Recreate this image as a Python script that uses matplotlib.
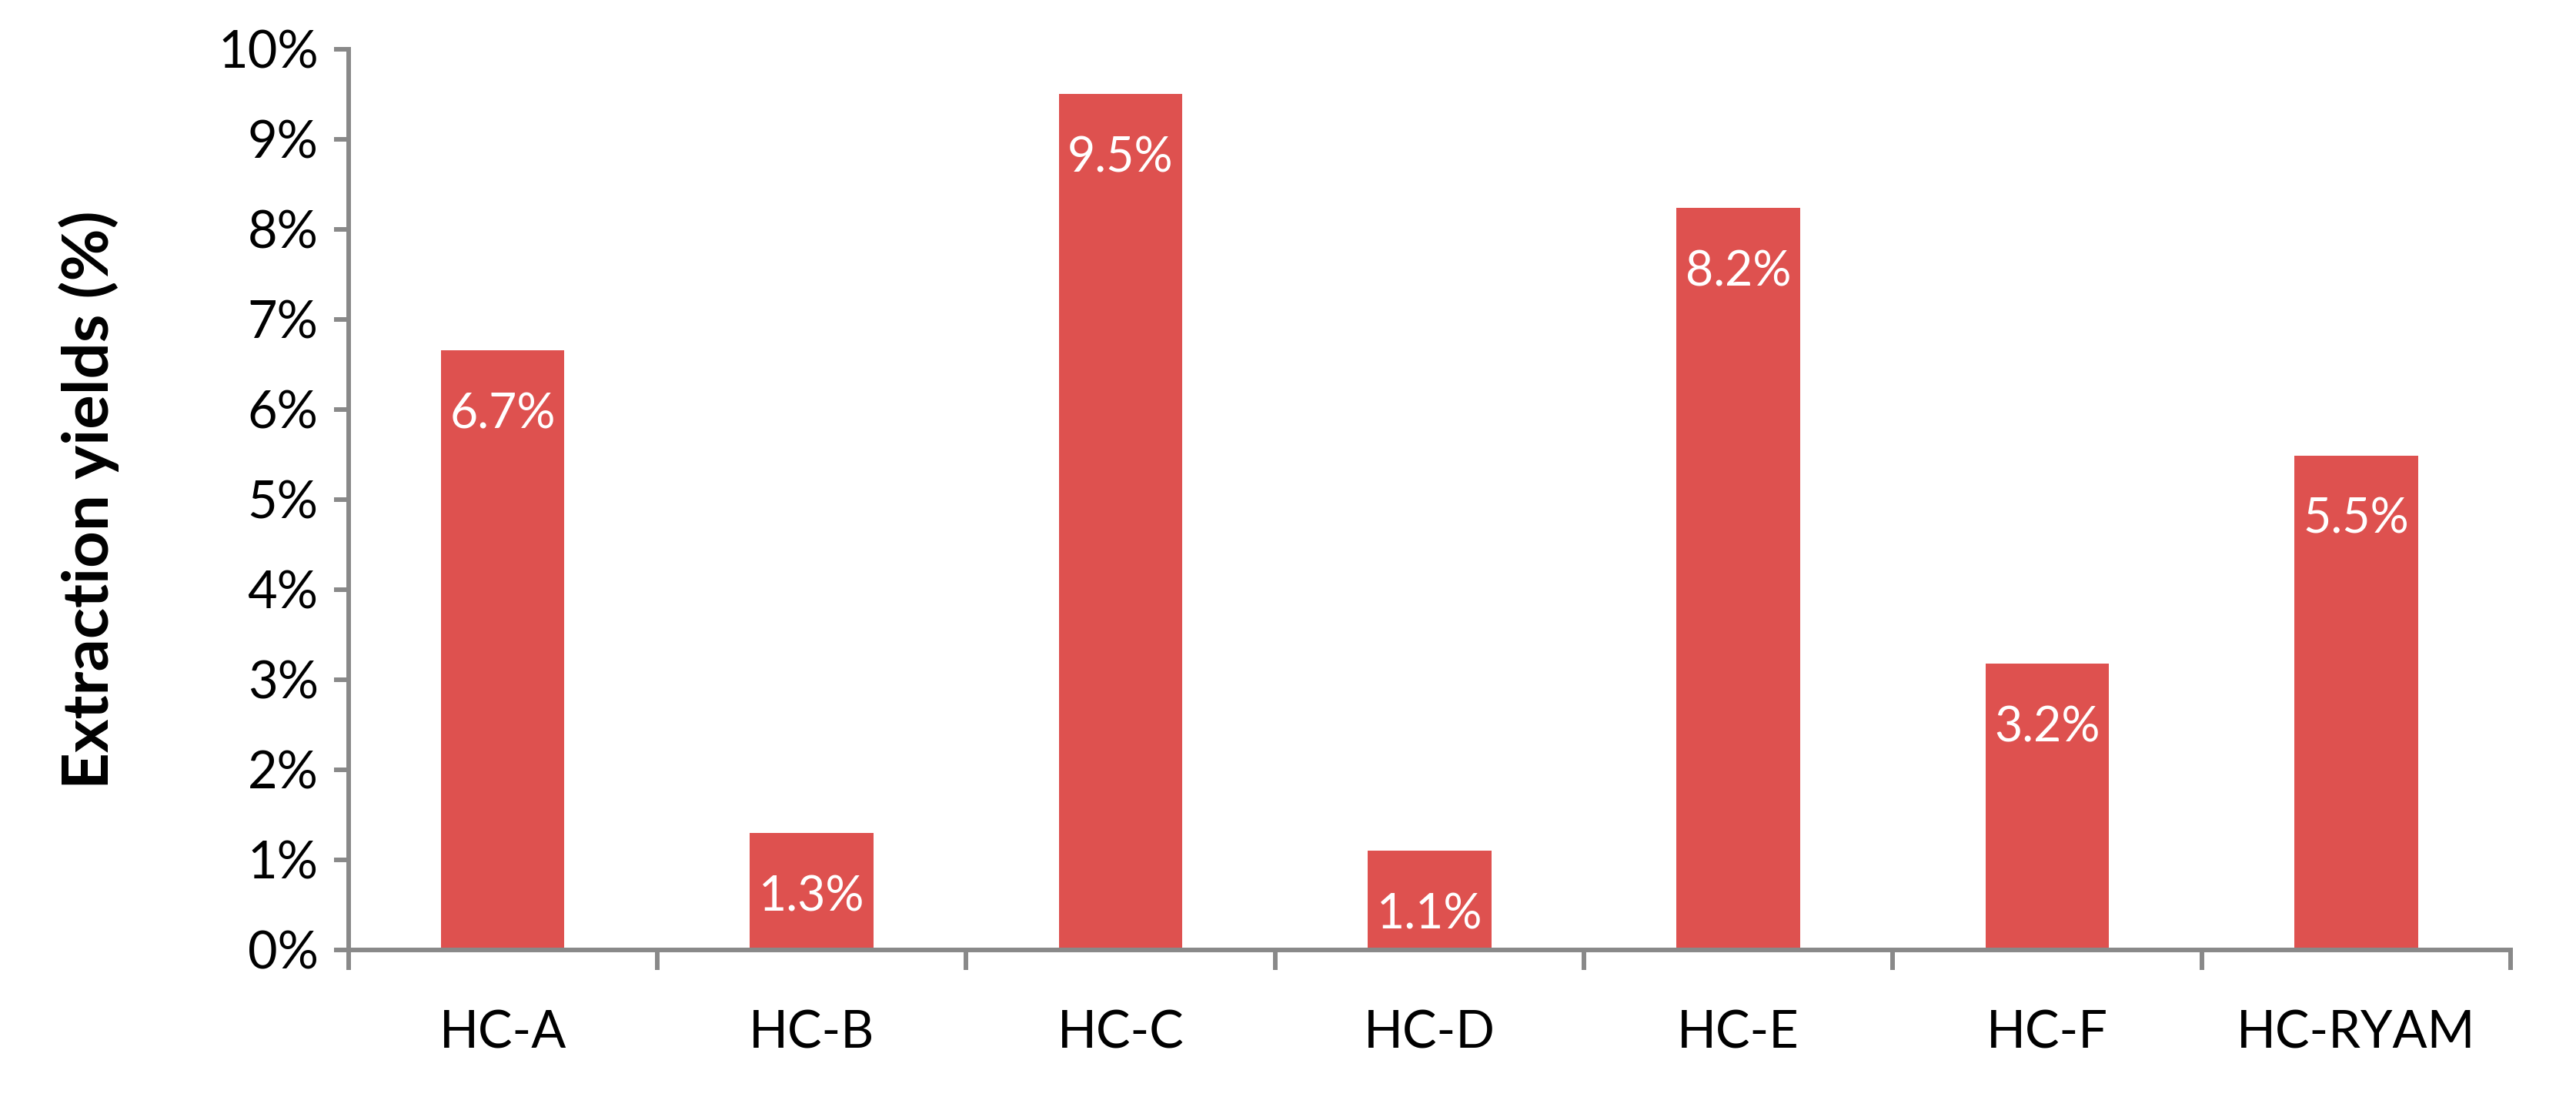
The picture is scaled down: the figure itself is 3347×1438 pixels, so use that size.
import matplotlib
matplotlib.use('Agg')
import matplotlib.pyplot as plt
import numpy as np
from matplotlib.ticker import FuncFormatter

categories = ['HC-A', 'HC-B', 'HC-C', 'HC-D', 'HC-E', 'HC-F', 'HC-RYAM']
yields = [6.66, 1.30, 9.50, 1.10, 8.24, 3.18, 5.49]
yticks = list(range(0, 11))

plt.rcParams['font.family'] = ['Lato', 'DejaVu Sans']

def plot(cats, vals):
    bar_color = '#DE514F'
    axis_color = '#898989'
    fig = plt.figure(figsize=(33.47, 14.38), dpi=100)
    ax = fig.add_axes([0.1352, 0.1419, 0.8394, 0.8136])
    x = np.arange(len(cats))
    ax.bar(x, vals, width=0.4, color=bar_color, zorder=2)

    for xi, v in zip(x, vals):
        ax.annotate(f'{v:.1f}%', (xi, v), xytext=(0, -60), textcoords='offset points',
                    ha='center', va='center', color='white', fontsize=45)

    ax.set_xlim(-0.5, len(cats) - 0.5)
    ax.set_ylim(0, 10)
    ax.set_yticks(yticks)
    ax.yaxis.set_major_formatter(FuncFormatter(lambda v, p: f'{int(v)}%'))
    ax.set_xticks(x)
    ax.set_xticklabels(cats)
    ax.set_xticks(np.arange(-0.5, len(cats)), minor=True)

    for s in ['top', 'right']:
        ax.spines[s].set_visible(False)
    for s in ['left', 'bottom']:
        ax.spines[s].set_color(axis_color)
        ax.spines[s].set_linewidth(4.3)

    ax.tick_params(axis='y', length=14, width=4.3, color=axis_color, labelsize=48, pad=14)
    ax.tick_params(axis='x', which='major', length=0, labelsize=48, pad=56)
    ax.tick_params(axis='x', which='minor', length=19, width=4.3, color=axis_color)

    ax.set_ylabel('Extraction yields (%)', fontsize=60, fontweight='bold', labelpad=92)

    fig.savefig('out.png', dpi=100)

if __name__ == '__main__':
    plot(categories, yields)
